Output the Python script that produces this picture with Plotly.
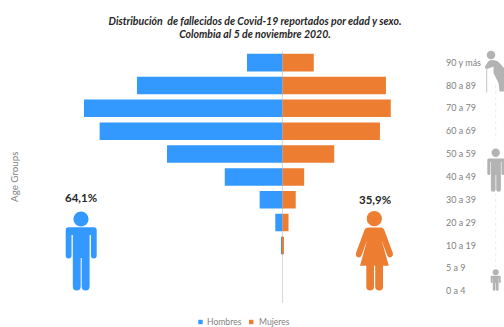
import re
import plotly.graph_objects as go

# Share of reported deaths by age group and sex (percent of total)
age_groups = ["0 a 4", "5 a 9", "10 a 19", "20 a 29", "30 a 39", "40 a 49",
              "50 a 59", "60 a 69", "70 a 79", "80 a 89", "90 y más"]
hombres = [0.0, 0.0, 0.05, 0.6, 1.9, 4.8, 9.6, 15.2, 16.5, 12.1, 2.95]
mujeres = [0.0, 0.0, 0.05, 0.5, 1.1, 1.8, 4.3, 8.1, 9.0, 8.6, 2.6]
total_hombres = "64,1%"
total_mujeres = "35,9%"
title_lines = ["Distribución\u00a0 de fallecidos de Covid-19 reportados por edad y sexo.",
               "Colombia al 5 de noviembre 2020."]

W, H = 504, 327
BLUE, ORANGE, GREY = "#3399ff", "#ed7d31", "#b3b3b3"
TEXT = "#7f7f7f"
FONT = "Lato"


def px_x(x):
    return x / W


def px_y(y):
    return 1 - y / H


def to_paper(path):
    """Convert an 'x,y' path laid out in page pixels to paper fractions."""
    return re.sub(r"(-?[\d.]+),(-?[\d.]+)",
                  lambda m: f"{px_x(float(m[1])):.5f},{px_y(float(m[2])):.5f}", path)


def blob(path, color):
    return dict(type="path", xref="paper", yref="paper", path=to_paper(path),
                fillcolor=color, line=dict(width=0), layer="above")


def head(cx, cy, r, color):
    return dict(type="circle", xref="paper", yref="paper", x0=px_x(cx - r), x1=px_x(cx + r),
                y0=px_y(cy + r), y1=px_y(cy - r), fillcolor=color, line=dict(width=0))


def person(cx, top, hw, aw, gap, arm_end, armpit, leg_end, crotch, slit):
    """Standing pictogram body: shoulders, two arms, torso and two legs."""
    r = aw / 2
    ti = hw - aw - gap
    lr = (ti - slit / 2) / 2
    side = lambda d: cx + d
    return (
        f"M{side(-hw + r)},{top} L{side(hw - r)},{top} "
        f"Q{side(hw)},{top} {side(hw)},{top + r} L{side(hw)},{arm_end - r} "
        f"Q{side(hw)},{arm_end} {side(hw - r)},{arm_end} "
        f"Q{side(hw - aw)},{arm_end} {side(hw - aw)},{arm_end - r} "
        f"L{side(hw - aw)},{armpit} L{side(ti)},{armpit} L{side(ti)},{leg_end - lr} "
        f"Q{side(ti)},{leg_end} {side(ti - lr)},{leg_end} "
        f"Q{side(slit / 2)},{leg_end} {side(slit / 2)},{leg_end - lr} "
        f"L{side(slit / 2)},{crotch} L{side(-slit / 2)},{crotch} L{side(-slit / 2)},{leg_end - lr} "
        f"Q{side(-slit / 2)},{leg_end} {side(-ti + lr)},{leg_end} "
        f"Q{side(-ti)},{leg_end} {side(-ti)},{leg_end - lr} "
        f"L{side(-ti)},{armpit} L{side(-hw + aw)},{armpit} L{side(-hw + aw)},{arm_end - r} "
        f"Q{side(-hw + aw)},{arm_end} {side(-hw + r)},{arm_end} "
        f"Q{side(-hw)},{arm_end} {side(-hw)},{arm_end - r} L{side(-hw)},{top + r} "
        f"Q{side(-hw)},{top} {side(-hw + r)},{top} Z"
    )


WOMAN = (
    "M368.5,227.5 L380.5,227.5 Q383.5,227.5 384.5,230.5 L392.8,253 Q393.6,256.5 390.5,257.3 "
    "Q388,257.8 387,255 L381.5,240 L388.8,265.7 L383,265.7 L383,287 Q383,290.4 379.5,290.4 "
    "Q375.2,290.4 375.2,287 L375.2,265.7 L374,265.7 L374,287 Q374,290.4 370,290.4 "
    "Q366.3,290.4 366.3,287 L366.3,265.7 L360,265.7 L367.2,240 L361.7,255 Q360.7,257.8 358.2,257.3 "
    "Q355.2,256.5 356,253 L364.3,230.5 Q365.3,227.5 368.5,227.5 Z"
)
OLD_MAN = (
    "M488.5,61 Q491,59.8 494.5,60.2 Q498,60.8 500,63.5 L504,68 L504,91.5 L499.5,91.5 "
    "L498.5,83 L493.5,73 L493.5,66.5 L487,69 Q484.8,69 484.8,67 Z"
)

shapes = [
    head(81, 219, 7.6, BLUE),
    blob(person(81.2, 227.3, 15.5, 5.8, 1.3, 258.5, 235, 290.5, 258, 1.0), BLUE),
    head(374.3, 218.7, 7.6, ORANGE),
    blob(WOMAN, ORANGE),
    head(491, 55, 4.3, GREY),
    blob(OLD_MAN, GREY),
    dict(type="line", xref="paper", yref="paper", x0=px_x(486.7), x1=px_x(486.7),
         y0=px_y(67), y1=px_y(92.5), line=dict(color="#c4c4c4", width=1)),
    head(495.7, 152.7, 4.2, GREY),
    blob(person(495.9, 158.5, 8.6, 3, 0.6, 175, 162, 191.7, 175, 0.7), GREY),
    head(495.7, 272.3, 3.0, GREY),
    blob(person(495.7, 275.7, 5, 1.8, 0.3, 283, 278, 290.7, 283, 0.5), GREY),
    dict(type="line", xref="paper", yref="paper", x0=px_x(495.7), x1=px_x(495.7),
         y0=px_y(85), y1=px_y(140), line=dict(color="#ececec", width=1, dash="dot")),
    dict(type="line", xref="paper", yref="paper", x0=px_x(495.7), x1=px_x(495.7),
         y0=px_y(193), y1=px_y(267), line=dict(color="#ececec", width=1, dash="dot")),
]

# Legend swatches
for x0, color in [(198.3, BLUE), (249.0, ORANGE)]:
    shapes.append(dict(type="rect", xref="paper", yref="paper", x0=px_x(x0), x1=px_x(x0 + 4.4),
                       y0=px_y(324.2), y1=px_y(319.8), fillcolor=color, line=dict(width=0)))


def label(text, x, y, size, color=TEXT, bold=False, angle=0, anchor="left"):
    return dict(text=f"<b>{text}</b>" if bold else text, x=px_x(x), y=px_y(y), xref="paper",
                yref="paper", showarrow=False, xanchor=anchor, yanchor="middle", textangle=angle,
                font=dict(family=FONT, size=size, color=color))


annotations = [
    label(total_hombres, 81, 197.5, 11.5, "#262626", True, anchor="center"),
    label(total_mujeres, 374.5, 199, 11.5, "#262626", True, anchor="center"),
    label("Age Groups", 14, 177, 9.8, angle=-90, anchor="center"),
    label("Hombres", 205, 322, 8.6),
    label("Mujeres", 256.5, 322, 8.6),
]

fig = go.Figure()
fig.add_bar(y=age_groups, x=[-v for v in hombres], name="Hombres", orientation="h",
            marker=dict(color=BLUE, line=dict(width=0)), showlegend=False)
fig.add_bar(y=age_groups, x=mujeres, name="Mujeres", orientation="h",
            marker=dict(color=ORANGE, line=dict(width=0)), showlegend=False)

fig.update_layout(
    width=W, height=H, margin=dict(l=0, r=0, t=0, b=0, autoexpand=False),
    paper_bgcolor="white", plot_bgcolor="white", barmode="relative", bargap=0.234,
    showlegend=False, shapes=shapes, annotations=annotations,
    title=dict(text="<br>".join(f"<b><i>{t}</i></b>" for t in title_lines),
               x=255 / W, xanchor="center", y=1 - 24.5 / H, yanchor="middle",
               font=dict(family=FONT, size=10.5, color="#262626")),
    xaxis=dict(range=[-282.5 / 12.03, 221.5 / 12.03], domain=[0, 1], visible=True,
               showgrid=False, showticklabels=False, ticks="", showline=False, layer="above traces",
               zeroline=True, zerolinecolor="#d9d9d9", zerolinewidth=1),
    yaxis=dict(type="category", categoryorder="array", categoryarray=age_groups,
               range=[-0.5, 10.5], domain=[24.4 / H, 1 - 51.2 / H], anchor="free",
               position=445 / W, side="right", showgrid=False, ticks="", showline=False,
               zeroline=False, tickfont=dict(family=FONT, size=9, color=TEXT)),
)

fig.write_html("out.html")
